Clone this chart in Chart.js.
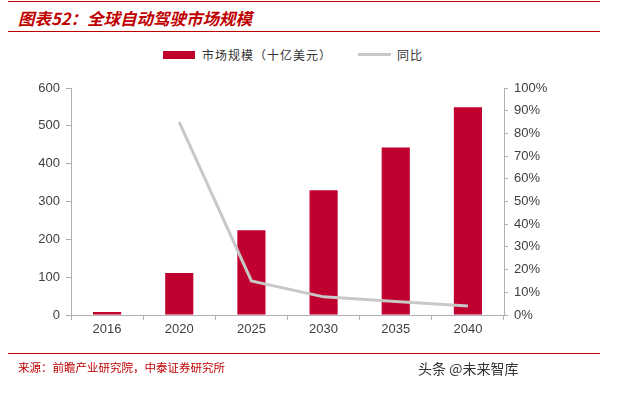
<!DOCTYPE html>
<html>
<head>
<meta charset="utf-8">
<script src="https://cdn.jsdelivr.net/npm/chart.js@4/dist/chart.umd.min.js"></script>
<style>
  body { margin: 0; background: #fff; font-family: "Noto Sans CJK SC", sans-serif; }
  #wrap { position: relative; width: 630px; height: 394px; overflow: hidden; }
  #chartBox { position: absolute; left: 0; top: 0; width: 630px; height: 394px; }
  .rule { position: absolute; left: 8px; width: 592px; height: 0; border-top: 1.5px solid #c00000; }
  #title { position: absolute; left: 18px; top: 6px; font-size: 16.5px; font-weight: bold; font-style: italic; color: #c00000; }
  #source { position: absolute; left: 18px; top: 359px; font-size: 11.5px; color: #c00000; }
  #mark { position: absolute; left: 418px; top: 358px; font-size: 14px; color: #333; }
  #legend { position: absolute; top: 46px; left: 163px; font-size: 12px; color: #333; display: flex; align-items: center; }
  .sw { display: inline-block; }
</style>
</head>
<body>
<div id="wrap">
  <div class="rule" style="top:1px"></div>
  <div id="title">图表52：全球自动驾驶市场规模</div>
  <div class="rule" style="top:31px"></div>
  <div id="legend">
    <span class="sw" style="width:32px;height:8px;background:#c0002f;margin-right:7px"></span>
    <span style="letter-spacing:1px">市场规模（十亿美元）</span>
    <span class="sw" style="width:33px;height:3px;background:#c8c8c8;margin-left:26px;margin-right:6px"></span>
    <span style="letter-spacing:1px">同比</span>
  </div>
  <div id="chartBox"><canvas id="c"></canvas></div>
  <div class="rule" style="top:353px"></div>
  <div id="source">来源：前瞻产业研究院，中泰证券研究所</div>
  <div id="mark">头条 @未来智库</div>
</div>
<script>
  // data
  const years = ['2016', '2020', '2025', '2030', '2035', '2040'];
  const marketSize = [8, 111, 224, 330, 443, 549];
  const yoyGrowth = [null, 85, 15, 8, 6, 4];

  const tickFont = { family: 'Liberation Sans, Arial, sans-serif', size: 13 };
  const axisGray = '#b0b0b0';

  new Chart(document.getElementById('c').getContext('2d'), {
    data: {
      labels: years,
      datasets: [
        {
          type: 'line',
          label: '同比',
          data: yoyGrowth,
          yAxisID: 'y1',
          borderColor: '#c8c8c8',
          borderWidth: 3,
          pointRadius: 0,
          tension: 0,
          order: 0
        },
        {
          type: 'bar',
          label: '市场规模（十亿美元）',
          data: marketSize,
          yAxisID: 'y',
          backgroundColor: '#c0002f',
          categoryPercentage: 1,
          barPercentage: 0.39,
          order: 1
        }
      ]
    },
    options: {
      responsive: true,
      maintainAspectRatio: false,
      animation: false,
      layout: { padding: { left: 31, right: 76, top: 88, bottom: 54 } },
      plugins: { legend: { display: false }, tooltip: { enabled: false } },
      scales: {
        x: {
          afterFit: s => { s.height = 25; },
          grid: { offset: true, drawOnChartArea: false, tickLength: 5, color: axisGray },
          border: { color: axisGray },
          ticks: { color: '#404040', font: tickFont, padding: 2 }
        },
        y: {
          position: 'left',
          min: 0, max: 600,
          afterFit: s => { s.width = 40; },
          grid: { drawOnChartArea: false, tickLength: 5, color: axisGray },
          border: { color: axisGray },
          ticks: { stepSize: 100, color: '#404040', font: tickFont, padding: 6 }
        },
        y1: {
          position: 'right',
          min: 0, max: 100,
          afterFit: s => { s.width = 50; },
          grid: { drawOnChartArea: false, tickLength: 4, color: axisGray },
          border: { color: axisGray },
          ticks: { stepSize: 10, color: '#404040', font: tickFont, padding: 6, callback: v => v + '%' }
        }
      }
    }
  });
</script>
</body>
</html>
